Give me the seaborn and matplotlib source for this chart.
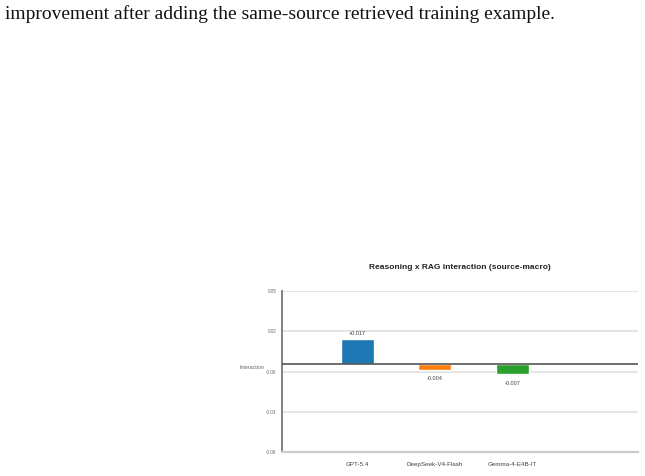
import matplotlib
matplotlib.use("Agg")
import matplotlib.pyplot as plt
import seaborn as sns
import pandas as pd

models = ["GPT-5.4", "DeepSeek-V4-Flash", "Gemma-4-E4B-IT"]
interaction = [0.017, -0.004, -0.007]
value_labels = ["+0.017", "-0.004", "-0.007"]
colors = ["#1f77b4", "#ff7f0e", "#2ca02c"]
yticks = [-0.06, -0.0325, -0.005, 0.0225, 0.05]
ytick_labels = ["-0.06", "-0.03", "-0.00", "0.02", "0.05"]
caption = "improvement after adding the same-source retrieved training example."

sns.set_theme(style="white")
plt.rcParams["font.family"] = ["Liberation Sans", "DejaVu Sans"]

fig = plt.figure(figsize=(6.45, 4.76), dpi=100)
fig.text(5 / 645, 1 - 14 / 476, caption, family=["Liberation Serif"], fontsize=14,
         ha="left", va="center", color="#111111")

ax = fig.add_axes([282 / 645, 24 / 476, 356 / 645, 161 / 476])
df = pd.DataFrame({"model": models, "value": interaction})
sns.barplot(data=df, x="model", y="value", hue="model", palette=colors,
            width=0.43, saturation=1, legend=False, ax=ax, zorder=3)

ax.set_ylim(-0.06, 0.05)
ax.set_xlim(-0.97, 3.62)
ax.set_yticks(yticks)
ax.set_yticklabels(ytick_labels)
ax.grid(axis="y", color="#e2e2e2", linewidth=1.3, zorder=0)
ax.axhline(0, color="#555555", linewidth=1.2, zorder=4)

for s in ["top", "right"]:
    ax.spines[s].set_visible(False)
ax.spines["left"].set_color("#777777")
ax.spines["left"].set_linewidth(1.3)
ax.spines["bottom"].set_color("#cccccc")
ax.spines["bottom"].set_linewidth(1.6)

ax.tick_params(axis="y", length=0, pad=4, labelsize=3.3, labelcolor="#666666")
ax.tick_params(axis="x", length=0, pad=7, labelsize=4.5, labelcolor="#444444")
ax.set_xlabel("")
ax.set_ylabel("Interaction", rotation=0, ha="right", va="center",
              fontsize=3.8, color="#666666")
ax.yaxis.set_label_coords(-0.048, 0.525)

for i, (v, lab) in enumerate(zip(interaction, value_labels)):
    off = 2.5 if v >= 0 else -4.5
    ax.annotate(lab, (i, v), xytext=(0, off), textcoords="offset points",
                ha="center", va="bottom" if v >= 0 else "top",
                fontsize=4.0, color="#444444")

ax.set_title("Reasoning x RAG interaction (source-macro)", fontsize=6.0,
             fontweight="bold", color="#222222", pad=16)

fig.savefig("out.png", dpi=100)
